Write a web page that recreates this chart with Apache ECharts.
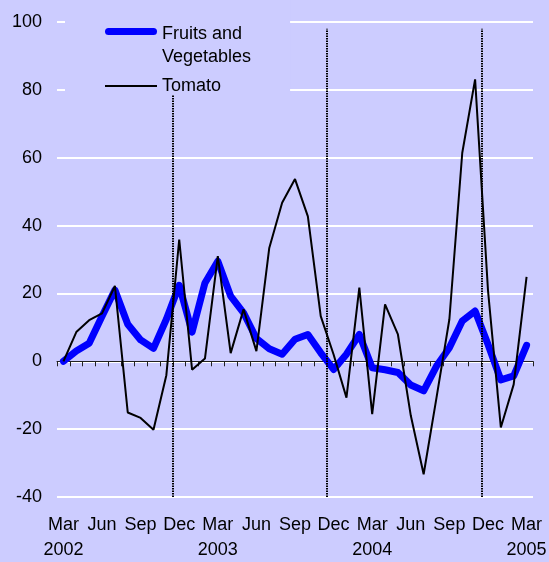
<!DOCTYPE html>
<html>
<head>
<meta charset="utf-8">
<script src="https://cdn.jsdelivr.net/npm/echarts@6/dist/echarts.min.js"></script>
<style>
    html, body { margin: 0; padding: 0; background: #ccccff; }
    #chart { width: 549px; height: 562px; }
</style>
</head>
<body>
<div id="chart"></div>
<script>
// monthly categories, Mar 2002 .. Mar 2005
var months = [
    'Mar 2002', 'Apr 2002', 'May 2002', 'Jun 2002', 'Jul 2002', 'Aug 2002', 'Sep 2002', 'Oct 2002', 'Nov 2002', 'Dec 2002',
    'Jan 2003', 'Feb 2003', 'Mar 2003', 'Apr 2003', 'May 2003', 'Jun 2003', 'Jul 2003', 'Aug 2003', 'Sep 2003', 'Oct 2003', 'Nov 2003', 'Dec 2003',
    'Jan 2004', 'Feb 2004', 'Mar 2004', 'Apr 2004', 'May 2004', 'Jun 2004', 'Jul 2004', 'Aug 2004', 'Sep 2004', 'Oct 2004', 'Nov 2004', 'Dec 2004',
    'Jan 2005', 'Feb 2005', 'Mar 2005'
];

var fruitsVeg = [0, 3, 5.3, 13.3, 21, 10.9, 6.3, 3.8, 12.4, 22.4,
    8.6, 23.1, 29.5, 19.2, 14.3, 6.7, 3.7, 2.1, 6.5, 7.9, 2.5, -2.4,
    2.1, 7.9, -1.9, -2.5, -3.3, -7, -8.7, -1.4, 4, 11.9, 14.8, 5,
    -5.5, -4.3, 4.7];

var tomato = [0, 8.6, 12.1, 14.1, 22.2, -15.1, -16.7, -20.2, -4.1, 35.9,
    -2.5, 0.8, 31, 2.4, 15.3, 3, 33.4, 46.7, 53.7, 42.7, 13.3, 2,
    -10.7, 21.7, -15.6, 16.8, 7.9, -16, -33.3, -10.7, 12.4, 61.4, 83.1, 21,
    -19.5, -6.8, 24.9];

// year breaks (boundary before Dec), on a 0..37 month scale
var dividers = [9, 21, 33];

var yTicks = { min: -40, max: 100, step: 20 };

var font = 'Liberation Sans, Arial, sans-serif';
// thick blue sits a little high in its 52x14 box, thin black in the middle
var blueIcon = 'path://M0,0M52,14M3.5,0.5H48.5A3.5,3.5,0,0,1,48.5,7.5H3.5A3.5,3.5,0,0,1,3.5,0.5Z';
var blackIcon = 'path://M0,0M52,14M0,6H52V8H0Z';

var chart = echarts.init(document.getElementById('chart'));

var option = {
    backgroundColor: '#ccccff',
    animation: false,
    grid: { left: 57, right: 16, top: 22, bottom: 65, outerBoundsMode: 'none' },
    legend: {
        orient: 'vertical',
        left: 65,
        top: 0,
        padding: [0, 39, 0, 40],
        backgroundColor: '#ccccff',
        itemWidth: 52,
        itemHeight: 14,
        itemGap: 8,
        selectedMode: false,
        itemStyle: { borderWidth: 0 },
        textStyle: { fontSize: 18, color: '#000', fontFamily: font, lineHeight: 23 },
        formatter: function (name) {
            // blank first line so the first text line lines up with the icon
            return name.indexOf('\n') > -1 ? ' \n' + name : name;
        },
        data: [
            { name: 'Fruits and\nVegetables', icon: blueIcon },
            { name: 'Tomato', icon: blackIcon, textStyle: { lineHeight: 12 } }
        ],
        z: 10
    },
    xAxis: [{
        type: 'category',
        data: months,
        boundaryGap: true,
        axisLine: { lineStyle: { color: '#222', width: 1 } },
        axisTick: { show: true, interval: 0, length: 5, lineStyle: { color: '#222' } },
        axisLabel: {
            interval: 2,
            margin: 16,
            fontSize: 18,
            lineHeight: 25,
            color: '#000',
            fontFamily: font,
            formatter: function (v) {
                var p = v.split(' ');
                return p[0] === 'Mar' ? p[0] + '\n' + p[1] : p[0];
            }
        },
        splitLine: { show: false }
    }, {
        type: 'value',
        min: 0,
        max: months.length,
        show: false
    }],
    yAxis: {
        type: 'value',
        min: yTicks.min,
        max: yTicks.max,
        interval: yTicks.step,
        axisLine: { show: false },
        axisTick: { show: false },
        axisLabel: { fontSize: 18, color: '#000', fontFamily: font, margin: 15 },
        splitLine: { lineStyle: { color: '#ffffff', width: 2 } }
    },
    series: [{
        name: 'Fruits and\nVegetables',
        type: 'line',
        data: fruitsVeg,
        symbol: 'none',
        lineStyle: { color: '#0000ff', width: 7, cap: 'round', join: 'round' },
        itemStyle: { color: '#0000ff' },
        z: 2
    }, {
        name: 'Tomato',
        type: 'line',
        data: tomato,
        symbol: 'none',
        lineStyle: { color: '#000000', width: 2 },
        itemStyle: { color: '#000000' },
        z: 3
    }, {
        // dotted year separators
        type: 'line',
        xAxisIndex: 1,
        data: [],
        z: 4,
        markLine: {
            silent: true,
            z: 4,
            symbol: 'none',
            label: { show: false },
            lineStyle: { color: '#000', width: 2, type: [1.5, 1] },
            data: dividers.map(function (d) {
                return [{ coord: [d, yTicks.min] }, { coord: [d, 98] }];
            })
        }
    }]
};

chart.setOption(option);
</script>
</body>
</html>
